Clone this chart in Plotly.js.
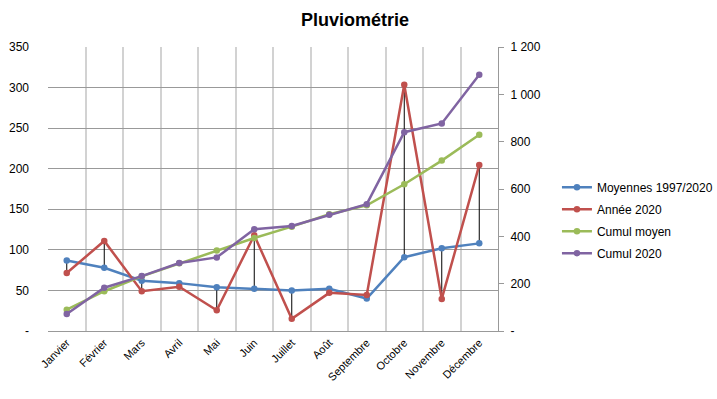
<!DOCTYPE html>
<html>
<head>
<meta charset="utf-8">
<script src="https://cdn.plot.ly/plotly-3.0.1.min.js"></script>
<style>html,body{margin:0;padding:0;background:#fff;}#chart{width:717px;height:399px;}</style>
</head>
<body>
<div id="chart"></div>
<script>
const months = ["Janvier","Février","Mars","Avril","Mai","Juin","Juillet","Août","Septembre","Octobre","Novembre","Décembre"];
const moyennes = [87, 78, 62, 59, 54, 52, 50, 52, 40, 91, 102, 108];
const annee2020 = [71.5, 111, 49, 54.5, 25.5, 118, 15, 47, 44.5, 303.5, 39.5, 204.5];
const cumulMoyen = [90, 168, 231, 286, 340, 393, 441, 493, 531, 620, 720, 829];
const cumul2020 = [72, 183, 232, 287, 311, 430, 444, 491, 536, 840, 877, 1083];
const leftTickVals = [0, 50, 100, 150, 200, 250, 300, 350];
const leftTickText = ["-", "50", "100", "150", "200", "250", "300", "350"];
const rightTickVals = [0, 200, 400, 600, 800, 1000, 1200];
const rightTickText = ["-", "200", "400", "600", "800", "1 000", "1 200"];

const hlX = [], hlY = [];
months.forEach((m, i) => { hlX.push(m, m, null); hlY.push(moyennes[i], annee2020[i], null); });

const FONT = "Liberation Sans, Arial, sans-serif";
const mk = (name, y, color, yaxis, grp) => ({
  type: "scatter", mode: "lines+markers", name: name, x: months, y: y,
  yaxis: yaxis, legendgroup: grp,
  line: {color: color, width: 2.5}, marker: {color: color, size: 6.5, symbol: "circle"},
  hoverinfo: "skip"
});

const data = [
  {type: "scatter", mode: "lines", x: hlX, y: hlY, line: {color: "#000", width: 1}, showlegend: false, hoverinfo: "skip", connectgaps: false},
  mk("Moyennes 1997/2020", moyennes, "#4f81bd", "y", "a"),
  mk("Année 2020", annee2020, "#c0504d", "y", "b"),
  mk("Cumul moyen", cumulMoyen, "#9bbb59", "y2", "c"),
  mk("Cumul 2020", cumul2020, "#8064a2", "y2", "d")
];

const layout = {
  width: 717, height: 399,
  margin: {l: 48, r: 219, t: 47, b: 68, autoexpand: false},
  paper_bgcolor: "#fff", plot_bgcolor: "#fff",
  font: {family: FONT, size: 12, color: "#000"},
  title: {text: "<b>Pluviométrie</b>", font: {family: FONT, size: 18, color: "#000"}, x: 0.495, xanchor: "center", y: 0.95, yanchor: "middle"},
  showlegend: true,
  legend: {x: 1.131, xanchor: "left", y: 0.39, yanchor: "middle", font: {family: FONT, size: 12, color: "#000"}, traceorder: "grouped", tracegroupgap: 3, bgcolor: "rgba(0,0,0,0)"},
  xaxis: {
    type: "category", range: [-0.5, 11.5], tickson: "boundaries",
    showgrid: true, gridcolor: "#d2d2d2", gridwidth: 2,
    showline: true, linecolor: "#999999", linewidth: 1,
    ticks: "", tickangle: -45, tickfont: {family: FONT, size: 11, color: "#000"},
    fixedrange: true
  },
  yaxis: {
    range: [0, 350], tickvals: leftTickVals, ticktext: leftTickText,
    showgrid: true, gridcolor: "#999999", gridwidth: 1,
    zeroline: false, showline: false, ticks: "",
    tickfont: {family: FONT, size: 12, color: "#000"}, ticklabelstandoff: 18
  },
  yaxis2: {
    range: [0, 1200], overlaying: "y", side: "right",
    tickvals: rightTickVals, ticktext: rightTickText,
    showgrid: false, zeroline: false,
    showline: true, linecolor: "#999999", linewidth: 1,
    ticks: "outside", ticklen: 5, tickcolor: "#999999",
    tickfont: {family: FONT, size: 12, color: "#000"}, ticklabelstandoff: 4
  }
};

Plotly.newPlot("chart", data, layout, {staticPlot: true, displayModeBar: false});
</script>
</body>
</html>
